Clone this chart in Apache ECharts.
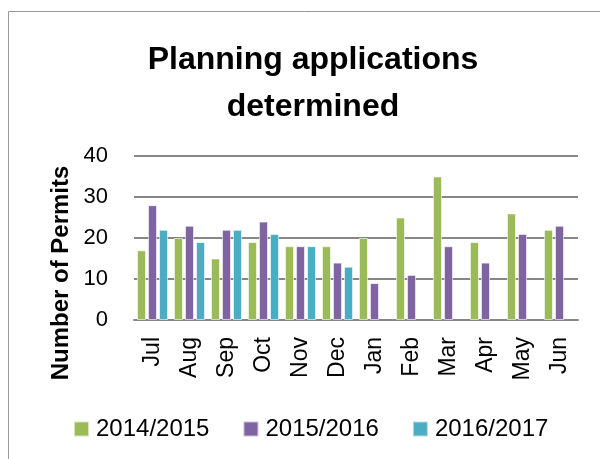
<!DOCTYPE html>
<html>
<head>
<meta charset="utf-8">
<script src="https://cdn.jsdelivr.net/npm/echarts@6/dist/echarts.min.js"></script>
<style>
  html, body { margin: 0; padding: 0; background: #fff; }
  #main { width: 600px; height: 459px; }
</style>
</head>
<body>
<div id="main"></div>
<script>
// months on the x axis
const months = ['Jul', 'Aug', 'Sep', 'Oct', 'Nov', 'Dec', 'Jan', 'Feb', 'Mar', 'Apr', 'May', 'Jun'];
// permits per year
const fy1415 = [17, 20, 15, 19, 18, 18, 20, 25, 35, 19, 26, 22];
const fy1516 = [28, 23, 22, 24, 18, 14, 9, 11, 18, 14, 21, 23];
const fy1617 = [22, 19, 22, 21, 18, 13, '-', '-', '-', '-', '-', '-'];
const seriesNames = ['2014/2015', '2015/2016', '2016/2017'];
const colors = ['#9BBB59', '#8064A2', '#4BACC6'];

const chart = echarts.init(document.getElementById('main'));
const font = 'Liberation Sans';

const option = {
  animation: false,
  color: colors,
  title: {
    text: 'Planning applications\ndetermined',
    left: 308,
    textAlign: 'center',
    top: 32,
    textStyle: { fontFamily: font, fontWeight: 'bold', fontSize: 32, lineHeight: 47, color: '#000' }
  },
  legend: {
    top: 412,
    left: 68,
    padding: 5,
    itemWidth: 15,
    itemHeight: 15,
    itemGap: 33,
    icon: 'rect',
    textStyle: { fontFamily: font, fontSize: 24, color: '#000', padding: [0, 0, 0, 2] },
    data: seriesNames
  },
  graphic: [
    {
      type: 'rect',
      shape: { x: 8.5, y: 11.5, width: 700, height: 600 },
      style: { fill: 'none', stroke: '#999', lineWidth: 1 }
    },
    {
      type: 'text',
      x: 61,
      y: 273,
      rotation: Math.PI / 2,
      style: {
        text: 'Number of Permits',
        fontFamily: font, fontWeight: 'bold', fontSize: 24, fill: '#000',
        align: 'center', verticalAlign: 'middle'
      }
    }
  ],
  grid: { left: 134, right: 22, top: 156, bottom: 139 },
  xAxis: {
    type: 'category',
    data: months,
    axisLine: { lineStyle: { color: '#868686', width: 2 } },
    axisTick: { show: false },
    axisLabel: { rotate: 90, fontFamily: font, fontSize: 23, color: '#000', margin: 17 }
  },
  yAxis: {
    type: 'value',
    min: 0, max: 40, interval: 10,
    axisLine: { show: false },
    axisTick: { show: false },
    axisLabel: { fontFamily: font, fontSize: 22, color: '#000', margin: 26 },
    splitLine: { lineStyle: { color: '#868686', width: 2 } }
  },
  series: [fy1415, fy1516, fy1617].map((data, i) => ({
    name: seriesNames[i],
    type: 'bar',
    data,
    barGap: '22%',
    barCategoryGap: '16%',
    itemStyle: { borderColor: 'rgba(255,255,255,0.6)', borderWidth: 1 }
  }))
};

chart.setOption(option);
</script>
</body>
</html>
